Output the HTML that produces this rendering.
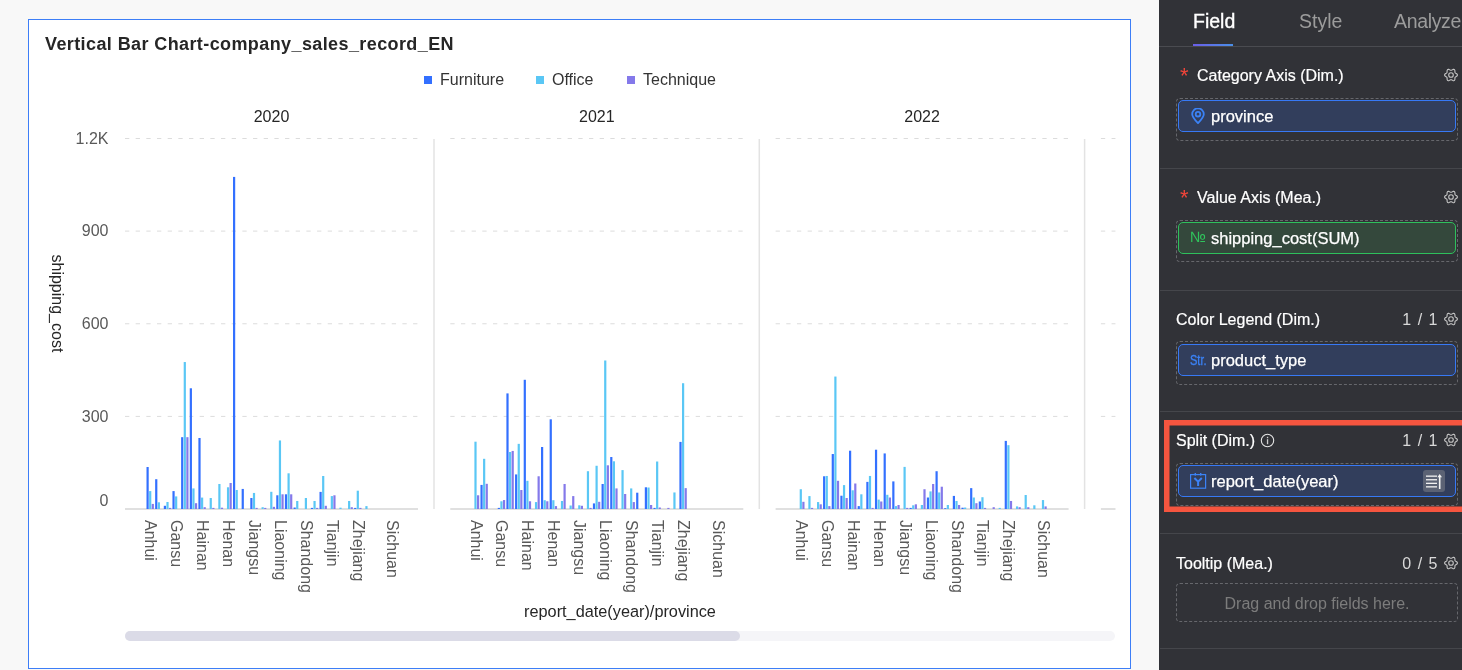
<!DOCTYPE html>
<html><head><meta charset="utf-8"><title>Vertical Bar Chart</title>
<style>
*{box-sizing:border-box;margin:0;padding:0}
html,body{width:1462px;height:670px;overflow:hidden;background:#f8f8f8;font-family:"Liberation Sans",Arial,sans-serif}
#card{position:absolute;left:28px;top:19px;width:1103px;height:650px;background:#fff;border:1px solid #3d7ef7}
#title{position:absolute;left:45px;top:33px;font-size:18px;font-weight:bold;color:#262626;white-space:nowrap;line-height:22px;letter-spacing:0.4px}
.leg{position:absolute;top:70px;font-size:16px;color:#333;line-height:20px;white-space:nowrap}
.leg i{position:absolute;left:-16px;top:6px;width:8px;height:8px}
#scroll{position:absolute;left:125px;top:631px;width:990px;height:10px;border-radius:5px;background:#f5f5f8}
#thumb{position:absolute;left:125px;top:631px;width:615px;height:10px;border-radius:5px;background:#dbdbe7}
svg#chart{position:absolute;left:0;top:0}
svg text{font-family:"Liberation Sans",Arial,sans-serif}
.g{stroke:#dcdcdc;stroke-width:1;stroke-dasharray:4.3 6.37}
.ax{stroke:#d6d6d6;stroke-width:1.4}
.sep{stroke:#e3e3e3;stroke-width:1.5}
.yr{font-size:16px;fill:#262626;text-anchor:middle}
.xl{font-size:16px;fill:#595959}
.yl{font-size:16px;fill:#595959;text-anchor:end}
.yt{font-size:16px;fill:#262626}
.xt{font-size:16.3px;fill:#262626;text-anchor:middle}

#panel{position:absolute;left:1159px;top:0;width:303px;height:670px;background:#313237;color:#f2f2f2;overflow:hidden}
.tab{position:absolute;top:9px;font-size:19.5px;line-height:24px;white-space:nowrap}
#tabline{position:absolute;left:0;top:46px;width:303px;height:1px;background:#4a4b50}
#tabul{position:absolute;left:34px;top:44px;width:40px;height:2px;background:linear-gradient(90deg,#6b5ee8,#4a8fe8)}
.div{position:absolute;left:1px;width:302px;height:1px;background:#45464b}
.st{position:absolute;left:17px;font-size:16px;line-height:18px;white-space:nowrap;color:#fff;-webkit-text-stroke:0.2px #fff}
.ast{position:absolute;left:21px;font-size:22px;color:#f0453a;line-height:22px}
.cnt{position:absolute;right:24.5px;font-size:16px;line-height:18px;color:#d9d9d9;white-space:nowrap;word-spacing:2px}
.gear{position:absolute;left:285px;width:14px;height:14px;overflow:visible}
.dash{position:absolute;left:17px;width:282px;border:1px dashed #66676c;border-radius:4px}
.fld{position:absolute;left:19px;width:278px;height:32px;border-radius:5px;border:1px solid #3779f6;background:#323e5c}
.fld.g2{border-color:#2ec05c;background:#34483c}
.fn{position:absolute;left:32px;top:5px;font-size:16.5px;line-height:20px;color:#fff;white-space:nowrap;-webkit-text-stroke:0.25px #fff}
.ic{position:absolute;left:12px;top:7px}
</style></head>
<body>
<div id="card"></div>
<div id="title">Vertical Bar Chart-company_sales_record_EN</div>
<div class="leg" style="left:440px"><i style="background:#3370ff"></i>Furniture</div>
<div class="leg" style="left:552px"><i style="background:#5ac7f5"></i>Office</div>
<div class="leg" style="left:643px"><i style="background:#8479ea"></i>Technique</div>
<div id="scroll"></div><div id="thumb"></div>
<svg id="chart" width="1462" height="670" viewBox="0 0 1462 670">
<defs><clipPath id="cp"><rect x="0" y="0" width="1115.5" height="670"/></clipPath></defs>
<g clip-path="url(#cp)">
<line x1="125" y1="138.5" x2="418" y2="138.5" class="g"/>
<line x1="125" y1="231.1" x2="418" y2="231.1" class="g"/>
<line x1="125" y1="323.75" x2="418" y2="323.75" class="g"/>
<line x1="125" y1="416.4" x2="418" y2="416.4" class="g"/>
<line x1="125" y1="509" x2="418" y2="509" class="ax"/>
<line x1="434" y1="139" x2="434" y2="509" class="sep"/>
<text x="271.5" y="122" class="yr">2020</text>
<rect x="146.5" y="467.01" width="2.2" height="41.99" fill="#3370ff"/>
<rect x="149.1" y="491.09" width="2.2" height="17.91" fill="#5ac7f5"/>
<rect x="151.7" y="503.91" width="2.2" height="5.09" fill="#8479ea"/>
<rect x="155.15" y="479.21" width="2.2" height="29.79" fill="#3370ff"/>
<rect x="157.75" y="502.3" width="2.2" height="6.7" fill="#5ac7f5"/>
<rect x="163.8" y="505.79" width="2.2" height="3.21" fill="#3370ff"/>
<rect x="166.4" y="501.99" width="2.2" height="7.01" fill="#5ac7f5"/>
<rect x="169" y="507.89" width="2.2" height="1.11" fill="#8479ea"/>
<rect x="172.45" y="491.09" width="2.2" height="17.91" fill="#3370ff"/>
<rect x="175.05" y="496.4" width="2.2" height="12.6" fill="#5ac7f5"/>
<rect x="181.1" y="437.18" width="2.2" height="71.82" fill="#3370ff"/>
<rect x="183.7" y="362.03" width="2.2" height="146.97" fill="#5ac7f5"/>
<rect x="186.3" y="437.18" width="2.2" height="71.82" fill="#8479ea"/>
<rect x="189.75" y="388.28" width="2.2" height="120.72" fill="#3370ff"/>
<rect x="192.35" y="488.41" width="2.2" height="20.59" fill="#5ac7f5"/>
<rect x="194.95" y="503.2" width="2.2" height="5.8" fill="#8479ea"/>
<rect x="198.4" y="437.99" width="2.2" height="71.01" fill="#3370ff"/>
<rect x="201" y="497.58" width="2.2" height="11.42" fill="#5ac7f5"/>
<rect x="203.6" y="507.21" width="2.2" height="1.79" fill="#8479ea"/>
<rect x="209.65" y="498.01" width="2.2" height="10.99" fill="#5ac7f5"/>
<rect x="212.25" y="507.89" width="2.2" height="1.11" fill="#8479ea"/>
<rect x="218.3" y="483.99" width="2.2" height="25.01" fill="#5ac7f5"/>
<rect x="220.9" y="507.7" width="2.2" height="1.3" fill="#8479ea"/>
<rect x="226.95" y="487.29" width="2.2" height="21.71" fill="#5ac7f5"/>
<rect x="229.55" y="483" width="2.2" height="26" fill="#8479ea"/>
<rect x="233" y="176.91" width="2.2" height="332.09" fill="#3370ff"/>
<rect x="235.6" y="490.01" width="2.2" height="18.99" fill="#5ac7f5"/>
<rect x="241.65" y="488.93" width="2.2" height="20.07" fill="#3370ff"/>
<rect x="250.3" y="498.01" width="2.2" height="10.99" fill="#3370ff"/>
<rect x="252.9" y="492.94" width="2.2" height="16.05" fill="#5ac7f5"/>
<rect x="255.5" y="507.89" width="2.2" height="1.11" fill="#8479ea"/>
<rect x="261.55" y="507.21" width="2.2" height="1.79" fill="#5ac7f5"/>
<rect x="264.15" y="507.89" width="2.2" height="1.11" fill="#8479ea"/>
<rect x="270.2" y="491.8" width="2.2" height="17.2" fill="#5ac7f5"/>
<rect x="272.8" y="506.84" width="2.2" height="2.16" fill="#8479ea"/>
<rect x="276.25" y="495.29" width="2.2" height="13.71" fill="#3370ff"/>
<rect x="278.85" y="440.46" width="2.2" height="68.54" fill="#5ac7f5"/>
<rect x="281.45" y="494.3" width="2.2" height="14.7" fill="#8479ea"/>
<rect x="284.9" y="494.3" width="2.2" height="14.7" fill="#3370ff"/>
<rect x="287.5" y="473.31" width="2.2" height="35.69" fill="#5ac7f5"/>
<rect x="290.1" y="494.3" width="2.2" height="14.7" fill="#8479ea"/>
<rect x="293.55" y="507.52" width="2.2" height="1.48" fill="#3370ff"/>
<rect x="296.15" y="500.97" width="2.2" height="8.03" fill="#5ac7f5"/>
<rect x="304.8" y="498.01" width="2.2" height="10.99" fill="#5ac7f5"/>
<rect x="310.85" y="507.89" width="2.2" height="1.11" fill="#3370ff"/>
<rect x="313.45" y="500.97" width="2.2" height="8.03" fill="#5ac7f5"/>
<rect x="316.05" y="507.89" width="2.2" height="1.11" fill="#8479ea"/>
<rect x="319.5" y="491.9" width="2.2" height="17.1" fill="#3370ff"/>
<rect x="322.1" y="475.99" width="2.2" height="33.01" fill="#5ac7f5"/>
<rect x="324.7" y="505.79" width="2.2" height="3.21" fill="#8479ea"/>
<rect x="330.75" y="496.09" width="2.2" height="12.91" fill="#5ac7f5"/>
<rect x="333.35" y="495.29" width="2.2" height="13.71" fill="#8479ea"/>
<rect x="339.4" y="507.7" width="2.2" height="1.3" fill="#5ac7f5"/>
<rect x="348.05" y="500.97" width="2.2" height="8.03" fill="#5ac7f5"/>
<rect x="350.65" y="507.21" width="2.2" height="1.79" fill="#8479ea"/>
<rect x="354.1" y="507.89" width="2.2" height="1.11" fill="#3370ff"/>
<rect x="356.7" y="490.69" width="2.2" height="18.31" fill="#5ac7f5"/>
<rect x="359.3" y="507.89" width="2.2" height="1.11" fill="#8479ea"/>
<rect x="365.35" y="506.1" width="2.2" height="2.9" fill="#5ac7f5"/>
<text transform="translate(145.2,520) rotate(90)" class="xl">Anhui</text>
<text transform="translate(171.15,520) rotate(90)" class="xl">Gansu</text>
<text transform="translate(197.1,520) rotate(90)" class="xl">Hainan</text>
<text transform="translate(223.05,520) rotate(90)" class="xl">Henan</text>
<text transform="translate(249,520) rotate(90)" class="xl">Jiangsu</text>
<text transform="translate(274.95,520) rotate(90)" class="xl">Liaoning</text>
<text transform="translate(300.9,520) rotate(90)" class="xl">Shandong</text>
<text transform="translate(326.85,520) rotate(90)" class="xl">Tianjin</text>
<text transform="translate(352.8,520) rotate(90)" class="xl">Zhejiang</text>
<text transform="translate(387.4,520) rotate(90)" class="xl">Sichuan</text>
<line x1="450.3" y1="138.5" x2="743.3" y2="138.5" class="g"/>
<line x1="450.3" y1="231.1" x2="743.3" y2="231.1" class="g"/>
<line x1="450.3" y1="323.75" x2="743.3" y2="323.75" class="g"/>
<line x1="450.3" y1="416.4" x2="743.3" y2="416.4" class="g"/>
<line x1="450.3" y1="509" x2="743.3" y2="509" class="ax"/>
<line x1="759.3" y1="139" x2="759.3" y2="509" class="sep"/>
<text x="596.8" y="122" class="yr">2021</text>
<rect x="474.4" y="441.69" width="2.2" height="67.31" fill="#5ac7f5"/>
<rect x="477" y="495.29" width="2.2" height="13.71" fill="#8479ea"/>
<rect x="480.45" y="484.92" width="2.2" height="24.08" fill="#3370ff"/>
<rect x="483.05" y="458.8" width="2.2" height="50.2" fill="#5ac7f5"/>
<rect x="485.65" y="483.81" width="2.2" height="25.19" fill="#8479ea"/>
<rect x="497.75" y="507.89" width="2.2" height="1.11" fill="#3370ff"/>
<rect x="500.35" y="501.28" width="2.2" height="7.72" fill="#5ac7f5"/>
<rect x="502.95" y="500.05" width="2.2" height="8.95" fill="#8479ea"/>
<rect x="506.4" y="393.4" width="2.2" height="115.6" fill="#3370ff"/>
<rect x="509" y="452" width="2.2" height="57" fill="#5ac7f5"/>
<rect x="511.6" y="450.95" width="2.2" height="58.05" fill="#8479ea"/>
<rect x="515.05" y="474.42" width="2.2" height="34.58" fill="#3370ff"/>
<rect x="517.65" y="443.85" width="2.2" height="65.15" fill="#5ac7f5"/>
<rect x="520.25" y="490.01" width="2.2" height="18.99" fill="#8479ea"/>
<rect x="523.7" y="379.79" width="2.2" height="129.21" fill="#3370ff"/>
<rect x="526.3" y="480.81" width="2.2" height="28.19" fill="#5ac7f5"/>
<rect x="528.9" y="501.28" width="2.2" height="7.72" fill="#8479ea"/>
<rect x="534.95" y="502.08" width="2.2" height="6.92" fill="#5ac7f5"/>
<rect x="537.55" y="476.27" width="2.2" height="32.73" fill="#8479ea"/>
<rect x="541" y="447" width="2.2" height="62" fill="#3370ff"/>
<rect x="543.6" y="500.2" width="2.2" height="8.8" fill="#5ac7f5"/>
<rect x="546.2" y="501.28" width="2.2" height="7.72" fill="#8479ea"/>
<rect x="549.65" y="419.31" width="2.2" height="89.69" fill="#3370ff"/>
<rect x="552.25" y="500.2" width="2.2" height="8.8" fill="#5ac7f5"/>
<rect x="554.85" y="506.1" width="2.2" height="2.9" fill="#8479ea"/>
<rect x="560.9" y="500.97" width="2.2" height="8.03" fill="#5ac7f5"/>
<rect x="563.5" y="483.99" width="2.2" height="25.01" fill="#8479ea"/>
<rect x="569.55" y="505.51" width="2.2" height="3.49" fill="#5ac7f5"/>
<rect x="572.15" y="496.09" width="2.2" height="12.91" fill="#8479ea"/>
<rect x="578.2" y="505.3" width="2.2" height="3.71" fill="#5ac7f5"/>
<rect x="580.8" y="505.79" width="2.2" height="3.21" fill="#8479ea"/>
<rect x="586.85" y="471.21" width="2.2" height="37.79" fill="#5ac7f5"/>
<rect x="589.45" y="507.89" width="2.2" height="1.11" fill="#8479ea"/>
<rect x="592.9" y="503.41" width="2.2" height="5.59" fill="#3370ff"/>
<rect x="595.5" y="465.77" width="2.2" height="43.23" fill="#5ac7f5"/>
<rect x="598.1" y="501.81" width="2.2" height="7.19" fill="#8479ea"/>
<rect x="601.55" y="483.99" width="2.2" height="25.01" fill="#3370ff"/>
<rect x="604.15" y="360.49" width="2.2" height="148.51" fill="#5ac7f5"/>
<rect x="606.75" y="465.31" width="2.2" height="43.69" fill="#8479ea"/>
<rect x="610.2" y="457.01" width="2.2" height="51.99" fill="#3370ff"/>
<rect x="612.8" y="461.3" width="2.2" height="47.7" fill="#5ac7f5"/>
<rect x="615.4" y="488.41" width="2.2" height="20.59" fill="#8479ea"/>
<rect x="621.45" y="470.1" width="2.2" height="38.9" fill="#5ac7f5"/>
<rect x="624.05" y="493.99" width="2.2" height="15.01" fill="#8479ea"/>
<rect x="630.1" y="488.41" width="2.2" height="20.59" fill="#5ac7f5"/>
<rect x="632.7" y="502.08" width="2.2" height="6.92" fill="#8479ea"/>
<rect x="636.15" y="492.7" width="2.2" height="16.3" fill="#3370ff"/>
<rect x="644.8" y="487.29" width="2.2" height="21.71" fill="#3370ff"/>
<rect x="647.4" y="487.51" width="2.2" height="21.49" fill="#5ac7f5"/>
<rect x="650" y="504.99" width="2.2" height="4.01" fill="#8479ea"/>
<rect x="653.45" y="507.89" width="2.2" height="1.11" fill="#3370ff"/>
<rect x="656.05" y="461.51" width="2.2" height="47.49" fill="#5ac7f5"/>
<rect x="658.65" y="507.52" width="2.2" height="1.48" fill="#8479ea"/>
<rect x="667.3" y="507.89" width="2.2" height="1.11" fill="#8479ea"/>
<rect x="673.35" y="492.45" width="2.2" height="16.55" fill="#5ac7f5"/>
<rect x="679.4" y="441.91" width="2.2" height="67.09" fill="#3370ff"/>
<rect x="682" y="383.22" width="2.2" height="125.78" fill="#5ac7f5"/>
<rect x="684.6" y="488.13" width="2.2" height="20.87" fill="#8479ea"/>
<text transform="translate(470.5,520) rotate(90)" class="xl">Anhui</text>
<text transform="translate(496.45,520) rotate(90)" class="xl">Gansu</text>
<text transform="translate(522.4,520) rotate(90)" class="xl">Hainan</text>
<text transform="translate(548.35,520) rotate(90)" class="xl">Henan</text>
<text transform="translate(574.3,520) rotate(90)" class="xl">Jiangsu</text>
<text transform="translate(600.25,520) rotate(90)" class="xl">Liaoning</text>
<text transform="translate(626.2,520) rotate(90)" class="xl">Shandong</text>
<text transform="translate(652.15,520) rotate(90)" class="xl">Tianjin</text>
<text transform="translate(678.1,520) rotate(90)" class="xl">Zhejiang</text>
<text transform="translate(712.7,520) rotate(90)" class="xl">Sichuan</text>
<line x1="775.6" y1="138.5" x2="1068.6" y2="138.5" class="g"/>
<line x1="775.6" y1="231.1" x2="1068.6" y2="231.1" class="g"/>
<line x1="775.6" y1="323.75" x2="1068.6" y2="323.75" class="g"/>
<line x1="775.6" y1="416.4" x2="1068.6" y2="416.4" class="g"/>
<line x1="775.6" y1="509" x2="1068.6" y2="509" class="ax"/>
<line x1="1084.6" y1="139" x2="1084.6" y2="509" class="sep"/>
<text x="922.1" y="122" class="yr">2022</text>
<rect x="799.7" y="489.24" width="2.2" height="19.76" fill="#5ac7f5"/>
<rect x="802.3" y="501.81" width="2.2" height="7.19" fill="#8479ea"/>
<rect x="808.35" y="496.09" width="2.2" height="12.91" fill="#5ac7f5"/>
<rect x="810.95" y="507.89" width="2.2" height="1.11" fill="#8479ea"/>
<rect x="817" y="502.08" width="2.2" height="6.92" fill="#5ac7f5"/>
<rect x="819.6" y="504.31" width="2.2" height="4.69" fill="#8479ea"/>
<rect x="823.05" y="476.27" width="2.2" height="32.73" fill="#3370ff"/>
<rect x="825.65" y="475.96" width="2.2" height="33.04" fill="#5ac7f5"/>
<rect x="828.25" y="506.1" width="2.2" height="2.9" fill="#8479ea"/>
<rect x="831.7" y="454.04" width="2.2" height="54.96" fill="#3370ff"/>
<rect x="834.3" y="376.55" width="2.2" height="132.45" fill="#5ac7f5"/>
<rect x="836.9" y="480.81" width="2.2" height="28.19" fill="#8479ea"/>
<rect x="840.35" y="495.72" width="2.2" height="13.28" fill="#3370ff"/>
<rect x="842.95" y="485.1" width="2.2" height="23.9" fill="#5ac7f5"/>
<rect x="845.55" y="498.01" width="2.2" height="10.99" fill="#8479ea"/>
<rect x="849" y="450.71" width="2.2" height="58.29" fill="#3370ff"/>
<rect x="851.6" y="490.29" width="2.2" height="18.71" fill="#5ac7f5"/>
<rect x="854.2" y="483.5" width="2.2" height="25.5" fill="#8479ea"/>
<rect x="857.65" y="506.1" width="2.2" height="2.9" fill="#3370ff"/>
<rect x="860.25" y="494.3" width="2.2" height="14.7" fill="#5ac7f5"/>
<rect x="866.3" y="481.89" width="2.2" height="27.11" fill="#3370ff"/>
<rect x="868.9" y="475.96" width="2.2" height="33.04" fill="#5ac7f5"/>
<rect x="871.5" y="507.89" width="2.2" height="1.11" fill="#8479ea"/>
<rect x="874.95" y="449.72" width="2.2" height="59.28" fill="#3370ff"/>
<rect x="877.55" y="499.61" width="2.2" height="9.39" fill="#5ac7f5"/>
<rect x="880.15" y="501.5" width="2.2" height="7.5" fill="#8479ea"/>
<rect x="883.6" y="453.43" width="2.2" height="55.58" fill="#3370ff"/>
<rect x="886.2" y="494.8" width="2.2" height="14.2" fill="#5ac7f5"/>
<rect x="888.8" y="497.51" width="2.2" height="11.49" fill="#8479ea"/>
<rect x="892.25" y="481.4" width="2.2" height="27.6" fill="#3370ff"/>
<rect x="894.85" y="506.1" width="2.2" height="2.9" fill="#5ac7f5"/>
<rect x="897.45" y="504.99" width="2.2" height="4.01" fill="#8479ea"/>
<rect x="903.5" y="466.89" width="2.2" height="42.11" fill="#5ac7f5"/>
<rect x="906.1" y="507.89" width="2.2" height="1.11" fill="#8479ea"/>
<rect x="909.55" y="507.89" width="2.2" height="1.11" fill="#3370ff"/>
<rect x="912.15" y="505.3" width="2.2" height="3.71" fill="#5ac7f5"/>
<rect x="914.75" y="504.31" width="2.2" height="4.69" fill="#8479ea"/>
<rect x="920.8" y="504.99" width="2.2" height="4.01" fill="#5ac7f5"/>
<rect x="923.4" y="489.24" width="2.2" height="19.76" fill="#8479ea"/>
<rect x="926.85" y="497.51" width="2.2" height="11.49" fill="#3370ff"/>
<rect x="929.45" y="491.4" width="2.2" height="17.6" fill="#5ac7f5"/>
<rect x="932.05" y="483.99" width="2.2" height="25.01" fill="#8479ea"/>
<rect x="935.5" y="471.21" width="2.2" height="37.79" fill="#3370ff"/>
<rect x="938.1" y="492.45" width="2.2" height="16.55" fill="#5ac7f5"/>
<rect x="940.7" y="486.71" width="2.2" height="22.29" fill="#8479ea"/>
<rect x="944.15" y="508.2" width="2.2" height="0.8" fill="#3370ff"/>
<rect x="946.75" y="504.99" width="2.2" height="4.01" fill="#5ac7f5"/>
<rect x="952.8" y="495.91" width="2.2" height="13.09" fill="#3370ff"/>
<rect x="955.4" y="500.97" width="2.2" height="8.03" fill="#5ac7f5"/>
<rect x="958" y="504.99" width="2.2" height="4.01" fill="#8479ea"/>
<rect x="961.45" y="507.7" width="2.2" height="1.3" fill="#3370ff"/>
<rect x="964.05" y="507.52" width="2.2" height="1.48" fill="#5ac7f5"/>
<rect x="970.1" y="488.13" width="2.2" height="20.87" fill="#3370ff"/>
<rect x="972.7" y="497.51" width="2.2" height="11.49" fill="#5ac7f5"/>
<rect x="975.3" y="503.2" width="2.2" height="5.8" fill="#8479ea"/>
<rect x="978.75" y="501.5" width="2.2" height="7.5" fill="#3370ff"/>
<rect x="981.35" y="497.21" width="2.2" height="11.79" fill="#5ac7f5"/>
<rect x="983.95" y="507.89" width="2.2" height="1.11" fill="#8479ea"/>
<rect x="992.6" y="507.21" width="2.2" height="1.79" fill="#8479ea"/>
<rect x="998.65" y="507.89" width="2.2" height="1.11" fill="#5ac7f5"/>
<rect x="1004.7" y="440.89" width="2.2" height="68.11" fill="#3370ff"/>
<rect x="1007.3" y="445.18" width="2.2" height="63.82" fill="#5ac7f5"/>
<rect x="1009.9" y="500.97" width="2.2" height="8.03" fill="#8479ea"/>
<rect x="1015.95" y="506.41" width="2.2" height="2.59" fill="#5ac7f5"/>
<rect x="1018.55" y="507.21" width="2.2" height="1.79" fill="#8479ea"/>
<rect x="1024.6" y="495.01" width="2.2" height="13.99" fill="#5ac7f5"/>
<rect x="1027.2" y="507.21" width="2.2" height="1.79" fill="#8479ea"/>
<rect x="1033.25" y="505.3" width="2.2" height="3.71" fill="#5ac7f5"/>
<rect x="1041.9" y="500.05" width="2.2" height="8.95" fill="#5ac7f5"/>
<rect x="1044.5" y="506.41" width="2.2" height="2.59" fill="#8479ea"/>
<text transform="translate(795.8,520) rotate(90)" class="xl">Anhui</text>
<text transform="translate(821.75,520) rotate(90)" class="xl">Gansu</text>
<text transform="translate(847.7,520) rotate(90)" class="xl">Hainan</text>
<text transform="translate(873.65,520) rotate(90)" class="xl">Henan</text>
<text transform="translate(899.6,520) rotate(90)" class="xl">Jiangsu</text>
<text transform="translate(925.55,520) rotate(90)" class="xl">Liaoning</text>
<text transform="translate(951.5,520) rotate(90)" class="xl">Shandong</text>
<text transform="translate(977.45,520) rotate(90)" class="xl">Tianjin</text>
<text transform="translate(1003.4,520) rotate(90)" class="xl">Zhejiang</text>
<text transform="translate(1038,520) rotate(90)" class="xl">Sichuan</text>
<line x1="1100.9" y1="138.5" x2="1393.9" y2="138.5" class="g"/>
<line x1="1100.9" y1="231.1" x2="1393.9" y2="231.1" class="g"/>
<line x1="1100.9" y1="323.75" x2="1393.9" y2="323.75" class="g"/>
<line x1="1100.9" y1="416.4" x2="1393.9" y2="416.4" class="g"/>
<line x1="1100.9" y1="509" x2="1393.9" y2="509" class="ax"/>
<text x="1247.4" y="122" class="yr">2023</text>
</g>
<text x="108.5" y="143.7" class="yl">1.2K</text>
<text x="108.5" y="236.3" class="yl">900</text>
<text x="108.5" y="328.95" class="yl">600</text>
<text x="108.5" y="421.6" class="yl">300</text>
<text x="108.5" y="506" class="yl">0</text>
<text transform="translate(52,254.5) rotate(90)" class="yt">shipping_cost</text>
<text x="620" y="616.5" class="xt">report_date(year)/province</text>
</svg>

<div id="panel">
  <div class="tab" style="left:34px;top:8.6px;color:#fff;-webkit-text-stroke:0.35px #fff">Field</div>
  <div class="tab" style="left:140px;color:#9c9c9c">Style</div>
  <div class="tab" style="left:235px;color:#9c9c9c;letter-spacing:-0.35px">Analyze</div>
  <div id="tabul"></div>
  <div id="tabline"></div>

  <!-- Category -->
  <div class="ast" style="top:65px">*</div>
  <div class="st" style="left:38px;top:67px">Category Axis (Dim.)</div>
  <svg class="gear" style="top:68px" viewBox="0 0 14 14"><use href="#gearp"/></svg>
  <div class="dash" style="top:98px;height:43px"></div>
  <div class="fld" style="top:100px">
    <svg class="ic" width="14" height="16" viewBox="0 0 14 16" style="top:7px"><path d="M7 15.2 C3.5 11.5 1.2 9 1.2 6.2 A5.8 5.8 0 0 1 12.8 6.2 C12.8 9 10.5 11.5 7 15.2 Z" fill="none" stroke="#3b82f6" stroke-width="1.8"/><circle cx="7" cy="6.2" r="2.3" fill="none" stroke="#3b82f6" stroke-width="1.8"/></svg>
    <div class="fn">province</div>
  </div>
  <div class="div" style="top:168px"></div>

  <!-- Value -->
  <div class="ast" style="top:187px">*</div>
  <div class="st" style="left:38px;top:189px">Value Axis (Mea.)</div>
  <svg class="gear" style="top:190px" viewBox="0 0 14 14"><use href="#gearp"/></svg>
  <div class="dash" style="top:220px;height:42px"></div>
  <div class="fld g2" style="top:222px">
    <div class="ic" style="left:11px;top:4px;color:#2fc45c;font-size:15px;line-height:20px">№</div>
    <div class="fn">shipping_cost(SUM)</div>
  </div>
  <div class="div" style="top:290px"></div>

  <!-- Color legend -->
  <div class="st" style="top:311px">Color Legend (Dim.)</div>
  <div class="cnt" style="top:311px">1 / 1</div>
  <svg class="gear" style="top:312px" viewBox="0 0 14 14"><use href="#gearp"/></svg>
  <div class="dash" style="top:341px;height:44px"></div>
  <div class="fld" style="top:344px">
    <div class="ic" style="left:11px;top:8px;color:#3b82f6;font-size:13.8px;line-height:16px;transform:scaleX(0.8);transform-origin:0 0;-webkit-text-stroke:0.3px #3b82f6">Str.</div>
    <div class="fn">product_type</div>
  </div>
  <div class="div" style="top:411px"></div>

  <!-- Split -->
  <div class="st" style="top:432px">Split (Dim.)</div>
  <svg style="position:absolute;left:100.5px;top:432.5px" width="15" height="15" viewBox="0 0 15 15"><circle cx="7.5" cy="7.5" r="6.2" fill="none" stroke="#e6e6e6" stroke-width="1.1"/><rect x="6.9" y="6.2" width="1.3" height="5" fill="#cfcfcf"/><rect x="6.9" y="3.8" width="1.3" height="1.4" fill="#cfcfcf"/></svg>
  <div class="cnt" style="top:432px">1 / 1</div>
  <svg class="gear" style="top:433px" viewBox="0 0 14 14"><use href="#gearp"/></svg>
  <div class="dash" style="top:463px;height:43px"></div>
  <div class="fld" style="top:465px">
    <svg class="ic" width="18" height="18" viewBox="0 0 18 18" style="left:11px;top:6px"><rect x="0.6" y="2.6" width="15" height="13.6" fill="none" stroke="#3b82f6" stroke-width="1.2"/><rect x="4.6" y="1" width="1.4" height="2.6" fill="#3b82f6"/><rect x="10" y="1" width="1.4" height="2.6" fill="#3b82f6"/><path d="M4.4 6 L8.1 9.7 L11.8 6 M8.1 9.7 V14" fill="none" stroke="#3b82f6" stroke-width="2"/></svg>
    <div class="fn">report_date(year)</div>
    <svg style="position:absolute;left:244px;top:4px" width="22" height="22" viewBox="0 0 22 22"><rect x="0" y="0" width="22" height="22" rx="3" fill="#5b6274"/><g fill="#f2f2f2"><rect x="3" y="5.5" width="11" height="1.3"/><rect x="3" y="9.1" width="11" height="1.3"/><rect x="3" y="12.7" width="11" height="1.3"/><rect x="3" y="16.2" width="11" height="1.3"/><rect x="15.9" y="6" width="1.6" height="13"/><path d="M14.4 7.2 L16.7 4 L19 7.2 Z"/></g></svg>
  </div>
  <svg style="position:absolute;left:5px;top:420px" width="298" height="92" viewBox="0 0 298 92"><rect x="2.75" y="2.75" width="310" height="86.5" fill="none" stroke="#f5553f" stroke-width="5.5"/></svg>
  <div class="div" style="top:533px"></div>

  <!-- Tooltip -->
  <div class="st" style="top:554.5px">Tooltip (Mea.)</div>
  <div class="cnt" style="top:555px">0 / 5</div>
  <svg class="gear" style="top:556px" viewBox="0 0 14 14"><use href="#gearp"/></svg>
  <div class="dash" style="top:583px;height:39px;text-align:center;color:#7c7c7c;font-size:16px;line-height:39px">Drag and drop fields here.</div>
  <div class="div" style="top:648px"></div>

  <svg width="0" height="0" style="position:absolute"><defs><g id="gearp"><path d="M13.40 7.00 L13.26 7.55 L12.88 8.04 L12.36 8.44 L11.82 8.75 L11.36 9.03 L11.07 9.35 L10.94 9.76 L10.93 10.29 L10.92 10.92 L10.84 11.58 L10.61 12.15 L10.20 12.54 L9.66 12.70 L9.04 12.61 L8.44 12.36 L7.89 12.05 L7.42 11.80 L7.00 11.70 L6.58 11.80 L6.11 12.05 L5.56 12.36 L4.96 12.61 L4.34 12.70 L3.80 12.54 L3.39 12.15 L3.16 11.58 L3.08 10.92 L3.07 10.29 L3.06 9.76 L2.93 9.35 L2.64 9.03 L2.18 8.75 L1.64 8.44 L1.12 8.04 L0.74 7.55 L0.60 7.00 L0.74 6.45 L1.12 5.96 L1.64 5.56 L2.18 5.25 L2.64 4.97 L2.93 4.65 L3.06 4.24 L3.07 3.71 L3.08 3.08 L3.16 2.42 L3.39 1.85 L3.80 1.46 L4.34 1.30 L4.96 1.39 L5.56 1.64 L6.11 1.95 L6.58 2.20 L7.00 2.30 L7.42 2.20 L7.89 1.95 L8.44 1.64 L9.04 1.39 L9.66 1.30 L10.20 1.46 L10.61 1.85 L10.84 2.42 L10.92 3.08 L10.93 3.71 L10.94 4.24 L11.07 4.65 L11.36 4.97 L11.82 5.25 L12.36 5.56 L12.88 5.96 L13.26 6.45 Z" fill="none" stroke="#c4c4c4" stroke-width="1.1" stroke-linejoin="round"/><circle cx="7" cy="7" r="2.3" fill="none" stroke="#c4c4c4" stroke-width="1.1"/></g></defs></svg>
</div>
</body></html>
